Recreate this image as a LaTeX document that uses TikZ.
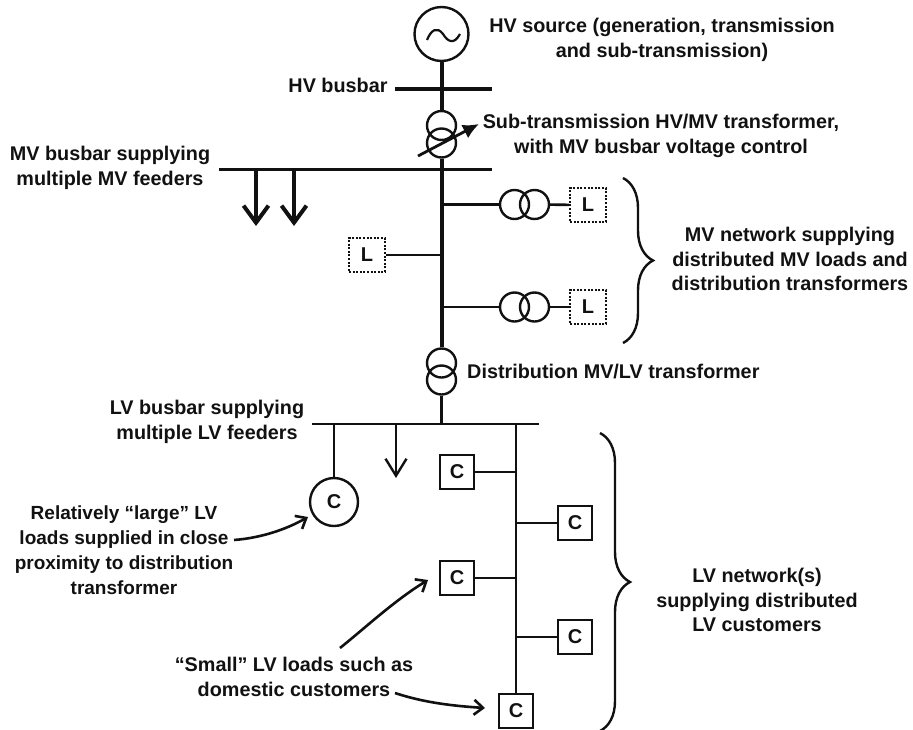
\documentclass[tikz,border=0pt]{standalone}
\usepackage{fontspec}
\setmainfont{Liberation Sans}
\usetikzlibrary{arrows.meta,decorations.pathreplacing}
\definecolor{ink}{HTML}{111111}
\tikzset{
  lbl/.style={font=\fontsize{19.8}{24.5}\selectfont\bfseries, align=center, text=ink, inner sep=0pt},
  src/.style={circle, draw=ink, line width=2.4pt, minimum size=54pt, inner sep=0pt},
  xfm/.style={circle, draw=ink, line width=2.4pt, minimum size=29pt, inner sep=0pt},
  mvload/.style={draw=ink, line width=2.2pt, dash pattern=on 2pt off 1.6pt, minimum width=36pt, minimum height=34pt,
              inner sep=0pt, font=\fontsize{20}{24}\selectfont\bfseries, text=ink},
  cust/.style={draw=ink, line width=2.4pt, minimum size=34pt, inner sep=0pt, font=\fontsize{20}{24}\selectfont\bfseries, text=ink},
  bigcust/.style={cust, circle, minimum size=48pt},
  hvline/.style={draw=ink, line width=4pt},
  mvbus/.style={draw=ink, line width=3.6pt},
  fdr/.style={draw=ink, line width=2.6pt},
  mvarrow/.style={-{Straight Barb[length=17pt,width=25pt,line width=4pt]}, draw=ink, line width=4pt},
  lvarrow/.style={-{Straight Barb[length=17pt,width=21pt,line width=2.4pt]}, draw=ink, line width=2.4pt},
  ptr/.style={-{Straight Barb[length=9pt,width=15pt,line width=2.6pt]}, draw=ink, line width=2.6pt},
  tapped/.style={-{Latex[length=16pt,width=15pt]}, draw=ink, line width=2.8pt},
  cbrace/.style={draw=ink, line width=2.4pt, decorate, decoration={brace, amplitude=30pt, aspect=0.5}},
}
\begin{document}
\begin{tikzpicture}[x=1pt,y=-1pt]
    \useasboundingbox (0,0) rectangle (913,729);
    \node[src] (gen) at (441.5,34) {};
    \node[xfm] (hv1) at (441.5,125.5) {};
    \node[xfm] (hv2) at (441.5,143) {};
    \node[xfm] (dt1) at (441.5,363) {};
    \node[xfm] (dt2) at (441.5,380) {};
    \node[xfm] (up1) at (514.5,204.5) {};
    \node[xfm] (up2) at (534.5,204.5) {};
    \node[xfm] (lo1) at (514.5,307) {};
    \node[xfm] (lo2) at (534.5,307) {};
    \node[mvload] (la) at (588,205) {L};
    \node[mvload] (lb) at (367,255) {L};
    \node[mvload] (lc) at (588,307) {L};
    \node[bigcust] (cbig) at (334,502) {C};
    \node[cust] (c1) at (457,472) {C};
    \node[cust] (c2) at (575,523) {C};
    \node[cust] (c3) at (457,578) {C};
    \node[cust] (c4) at (575,637) {C};
    \node[cust] (c5) at (516,711) {C};
    \coordinate (hvl) at (395,89);
    \coordinate (hvr) at (492,89);
    \coordinate (mvl) at (219,169.5);
    \coordinate (mvr) at (492,169.5);
    \coordinate (mvj) at (441.5,169.5);
    \coordinate (lvl) at (312,424);
    \coordinate (lvr) at (539,424);
    \coordinate (lvj) at (441.5,424);
    \coordinate (lvm) at (516,424);
    \coordinate (arA) at (256,169.5);
    \coordinate (arB) at (294,169.5);
    \coordinate (arAe) at (256,226);
    \coordinate (arBe) at (294,226);
    \coordinate (arC) at (396,424);
    \coordinate (arCe) at (396,478);
    \coordinate (tapS) at (418,156);
    \coordinate (tapE) at (479,124);
    \coordinate (bigS) at (234,540);
    \coordinate (bigE) at (308,517);
    \coordinate (smS) at (340,648);
    \coordinate (smE) at (428,580);
    \coordinate (domS) at (395,693);
    \coordinate (domE) at (485,708);

    \draw[ink, line width=2.2pt] (427,40) .. controls (431,30) and (437,26) .. (443,34) .. controls (448,42) and (454,45) .. (460,34);
    \draw[hvline] (gen) -- (hv1);
    \draw[hvline] (hvl) -- (hvr);
    \draw[mvbus] (mvl) -- (mvr);
    \draw[hvline] (hv2) -- (dt1);
    \draw[fdr] (dt2) -- (lvj);
    \draw[fdr] (lvl) -- (lvr);
    \draw[tapped] (tapS) -- (tapE);
    \draw[mvarrow] (arA) -- (arAe);
    \draw[mvarrow] (arB) -- (arBe);
    \draw[lvarrow] (arC) -- (arCe);
    \draw[fdr] (up1 -| mvj) -- (up1) (up2) -- (la);
    \draw[fdr] (lo1 -| mvj) -- (lo1) (lo2) -- (lc);
    \draw[fdr] (lb) -- (lb -| mvj);
    \draw[fdr] (lvl -| cbig) -- (cbig);
    \draw[fdr] (lvm) -- (c5);
    \foreach \n in {c1,c2,c3,c4} \draw[fdr] (\n) -- (\n -| lvm);

    \node[lbl] (tgen) at (662,40) {HV source (generation, transmission\\and sub-transmission)};
    \node[lbl] (thv) at (338,85) {HV busbar};
    \node[lbl] (tsub) at (661,136) {Sub-transmission HV/MV transformer,\\with MV busbar voltage control};
    \node[lbl] (tmv) at (110,168) {MV busbar supplying\\multiple MV feeders};
    \node[lbl] (tnet) at (790,259) {MV network supplying\\distributed MV loads and\\distribution transformers};
    \node[lbl, anchor=west] (tdt) at (467,372) {Distribution MV/LV transformer};
    \node[lbl] (tlv) at (207,422) {LV busbar supplying\\multiple LV feeders};
    \node[lbl, font=\fontsize{19}{24.8}\selectfont\bfseries] (tbig) at (124,550) {Relatively “large” LV\\loads supplied in close\\proximity to distribution\\transformer};
    \node[lbl] (tsmall) at (294,677) {“Small” LV loads such as\\domestic customers};
    \node[lbl] (tcust) at (757,600) {LV network(s)\\supplying distributed\\LV customers};

    \draw[ptr] (bigS) .. controls (260,538) and (285,530) .. (bigE);
    \draw[ptr] (smS) .. controls (365,628) and (395,600) .. (smE);
    \draw[ptr] (domS) .. controls (425,703) and (455,706) .. (domE);
    \draw[cbrace] (623,178) -- (623,343);
    \draw[cbrace] (600,433) -- (600,731);
  \end{tikzpicture}
\end{document}
